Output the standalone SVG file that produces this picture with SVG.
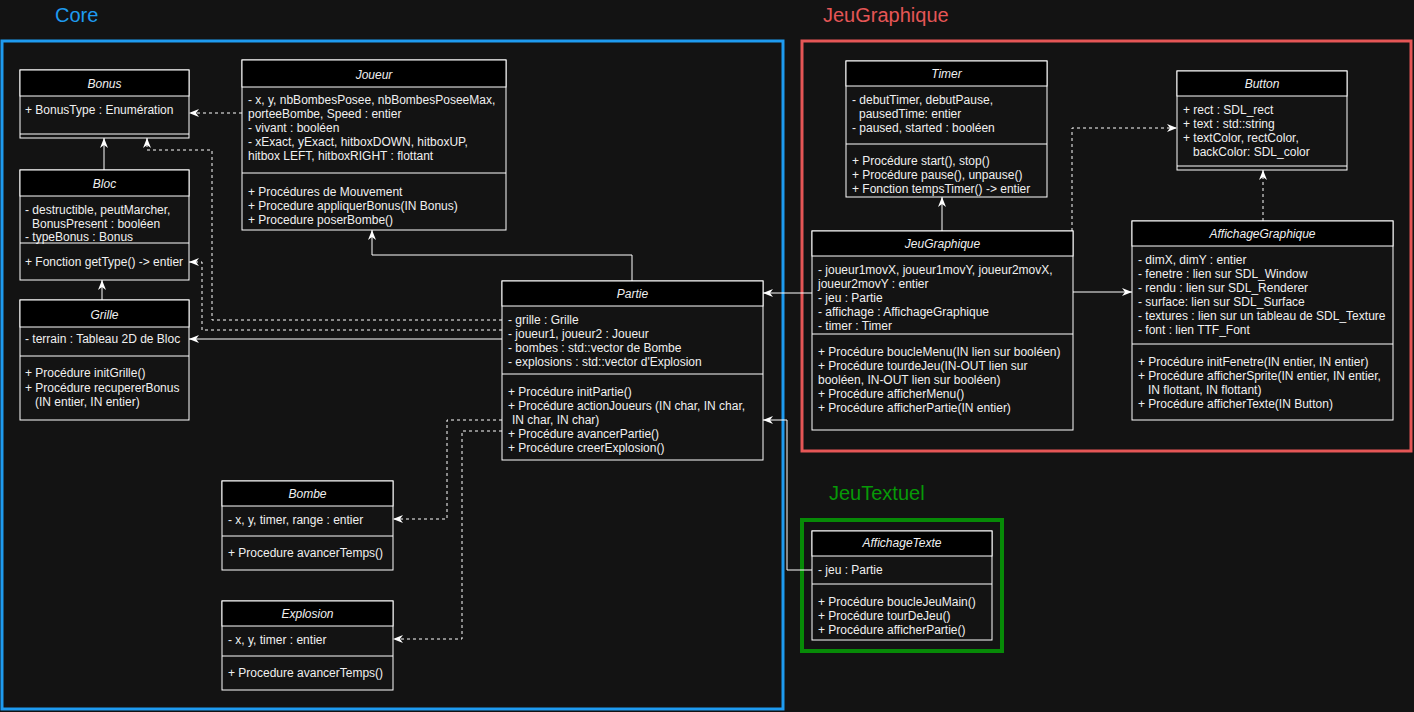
<svg xmlns="http://www.w3.org/2000/svg" width="1414" height="712" viewBox="0 0 1414 712">
<style>
.t{font-family:"Liberation Sans",Arial,Helvetica,sans-serif;font-size:12px;fill:#f0f0f0}
.ti{font-style:italic;text-anchor:middle}
.big{font-family:"Liberation Sans",Arial,Helvetica,sans-serif;font-size:20px}
.body{fill:#131313;stroke:#ffffff;stroke-width:1}
.hdr{fill:#000000;stroke:#ffffff;stroke-width:1}
.sep{stroke:#ffffff;stroke-width:1}
.c{fill:none;stroke:#ffffff;stroke-width:1}
.d{fill:none;stroke:#ffffff;stroke-width:1;stroke-dasharray:3 3}
</style>
<defs>
<marker id="a" markerUnits="userSpaceOnUse" markerWidth="10" markerHeight="8" refX="10" refY="4" orient="auto">
<path d="M0,0 L10,4 L0,8 L3,4 Z" fill="#ffffff"/>
</marker>
</defs>
<rect x="0" y="0" width="1414" height="712" fill="#131313"/>

<g id="frames">
<rect x="2" y="41" width="781" height="668" fill="none" stroke="#1e9bf0" stroke-width="3"/>
<text x="55" y="22" class="big" fill="#1e9bf0">Core</text>
<rect x="802" y="41" width="609" height="410" fill="none" stroke="#e55656" stroke-width="3"/>
<text x="823" y="22" class="big" fill="#e55656">JeuGraphique</text>
<rect x="802" y="520" width="200" height="131" fill="none" stroke="#078a07" stroke-width="4"/>
<text x="829" y="500" class="big" fill="#079a07">JeuTextuel</text>
</g>

<g id="connectors">
<path class="c" d="M104,170 V138" marker-end="url(#a)"/>
<path class="c" d="M102,300 V280" marker-end="url(#a)"/>
<path class="d" d="M242,113 H189" marker-end="url(#a)"/>
<path class="d" d="M502,320 H212 V150 H147 V138" marker-end="url(#a)"/>
<path class="d" d="M502,330 H202 V262 H189" marker-end="url(#a)"/>
<path class="c" d="M502,339 H189" marker-end="url(#a)"/>
<path class="c" d="M632,281 V255 H372 V230" marker-end="url(#a)"/>
<path class="d" d="M502,420 H447 V519 H393" marker-end="url(#a)"/>
<path class="d" d="M502,431 H462 V639 H393" marker-end="url(#a)"/>
<path class="c" d="M812,293 H763" marker-end="url(#a)"/>
<path class="c" d="M1073,292 H1132" marker-end="url(#a)"/>
<path class="c" d="M942,231 V197" marker-end="url(#a)"/>
<path class="d" d="M1072,231 V128 H1177" marker-end="url(#a)"/>
<path class="d" d="M1263,221 V170" marker-end="url(#a)"/>
<path class="c" d="M812,570 H787 V420 H763" marker-end="url(#a)"/>
</g>

<g id="Bonus">
<rect class="body" x="20" y="70" width="169" height="68"/>
<rect class="hdr" x="20" y="70" width="169" height="26"/>
<line class="sep" x1="20" y1="134" x2="189" y2="134"/>
<text class="t ti" x="104.5" y="88">Bonus</text>
<text class="t" x="25" y="114">+ BonusType : Enumération</text>
</g>

<g id="Bloc">
<rect class="body" x="20" y="170" width="169" height="110"/>
<rect class="hdr" x="20" y="170" width="169" height="26"/>
<line class="sep" x1="20" y1="243" x2="189" y2="243"/>
<text class="t ti" x="104.5" y="188">Bloc</text>
<text class="t" x="25" y="214">- destructible, peutMarcher,</text>
<text class="t" x="32" y="228">BonusPresent : booléen</text>
<text class="t" x="25" y="241">- typeBonus : Bonus</text>
<text class="t" x="25" y="266">+ Fonction getType() -&gt; entier</text>
</g>

<g id="Grille">
<rect class="body" x="20" y="300" width="169" height="120"/>
<rect class="hdr" x="20" y="300" width="169" height="27"/>
<line class="sep" x1="20" y1="356" x2="189" y2="356"/>
<text class="t ti" x="104.5" y="319">Grille</text>
<text class="t" x="25" y="343">- terrain : Tableau 2D de Bloc</text>
<text class="t" x="25" y="377">+ Procédure initGrille()</text>
<text class="t" x="25" y="392">+ Procédure recupererBonus</text>
<text class="t" x="35" y="406">(IN entier, IN entier)</text>
</g>

<g id="Joueur">
<rect class="body" x="242" y="60" width="264" height="170"/>
<rect class="hdr" x="242" y="60" width="264" height="27"/>
<line class="sep" x1="242" y1="173" x2="506" y2="173"/>
<text class="t ti" x="374" y="79">Joueur</text>
<text class="t" x="248" y="104">- x, y, nbBombesPosee, nbBombesPoseeMax,</text>
<text class="t" x="248" y="118">porteeBombe, Speed : entier</text>
<text class="t" x="248" y="132">- vivant : booléen</text>
<text class="t" x="248" y="146">- xExact, yExact, hitboxDOWN, hitboxUP,</text>
<text class="t" x="248" y="160">hitbox LEFT, hitboxRIGHT : flottant</text>
<text class="t" x="248" y="196">+ Procédures de Mouvement</text>
<text class="t" x="248" y="210">+ Procedure appliquerBonus(IN Bonus)</text>
<text class="t" x="248" y="224">+ Procedure poserBombe()</text>
</g>

<g id="Partie">
<rect class="body" x="502" y="281" width="261" height="179"/>
<rect class="hdr" x="502" y="281" width="261" height="25"/>
<line class="sep" x1="502" y1="374" x2="763" y2="374"/>
<text class="t ti" x="632.5" y="298">Partie</text>
<text class="t" x="508" y="324">- grille : Grille</text>
<text class="t" x="508" y="338">- joueur1, joueur2 : Joueur</text>
<text class="t" x="508" y="352">- bombes : std::vector de Bombe</text>
<text class="t" x="508" y="366">- explosions : std::vector d'Explosion</text>
<text class="t" x="508" y="396">+ Procédure initPartie()</text>
<text class="t" x="508" y="410">+ Procédure actionJoueurs (IN char, IN char,</text>
<text class="t" x="512" y="424">IN char, IN char)</text>
<text class="t" x="508" y="438">+ Procédure avancerPartie()</text>
<text class="t" x="508" y="452">+ Procédure creerExplosion()</text>
</g>

<g id="Bombe">
<rect class="body" x="222" y="481" width="171" height="89"/>
<rect class="hdr" x="222" y="481" width="171" height="25"/>
<line class="sep" x1="222" y1="536" x2="393" y2="536"/>
<text class="t ti" x="307.5" y="498">Bombe</text>
<text class="t" x="228" y="524">- x, y, timer, range : entier</text>
<text class="t" x="228" y="557">+ Procedure avancerTemps()</text>
</g>

<g id="Explosion">
<rect class="body" x="222" y="601" width="171" height="89"/>
<rect class="hdr" x="222" y="601" width="171" height="25"/>
<line class="sep" x1="222" y1="656" x2="393" y2="656"/>
<text class="t ti" x="307.5" y="618">Explosion</text>
<text class="t" x="228" y="644">- x, y, timer : entier</text>
<text class="t" x="228" y="677">+ Procedure avancerTemps()</text>
</g>

<g id="Timer">
<rect class="body" x="846" y="61" width="201" height="136"/>
<rect class="hdr" x="846" y="61" width="201" height="25"/>
<line class="sep" x1="846" y1="144" x2="1047" y2="144"/>
<text class="t ti" x="946.5" y="78">Timer</text>
<text class="t" x="852" y="104">- debutTimer, debutPause,</text>
<text class="t" x="859" y="118">pausedTime: entier</text>
<text class="t" x="852" y="132">- paused, started : booléen</text>
<text class="t" x="852" y="165">+ Procédure start(), stop()</text>
<text class="t" x="852" y="179">+ Procédure pause(), unpause()</text>
<text class="t" x="852" y="193">+ Fonction tempsTimer() -&gt; entier</text>
</g>

<g id="JeuGraphique">
<rect class="body" x="812" y="231" width="261" height="199"/>
<rect class="hdr" x="812" y="231" width="261" height="25"/>
<line class="sep" x1="812" y1="334" x2="1073" y2="334"/>
<text class="t ti" x="942.5" y="248">JeuGraphique</text>
<text class="t" x="818" y="274">- joueur1movX, joueur1movY, joueur2movX,</text>
<text class="t" x="818" y="288">joueur2movY : entier</text>
<text class="t" x="818" y="302">- jeu : Partie</text>
<text class="t" x="818" y="316">- affichage : AffichageGraphique</text>
<text class="t" x="818" y="330">- timer : Timer</text>
<text class="t" x="818" y="356">+ Procédure boucleMenu(IN lien sur booléen)</text>
<text class="t" x="818" y="370">+ Procédure tourdeJeu(IN-OUT lien sur</text>
<text class="t" x="818" y="384">booléen, IN-OUT lien sur booléen)</text>
<text class="t" x="818" y="398">+ Procédure afficherMenu()</text>
<text class="t" x="818" y="412">+ Procédure afficherPartie(IN entier)</text>
</g>

<g id="Button">
<rect class="body" x="1177" y="71" width="170" height="99"/>
<rect class="hdr" x="1177" y="71" width="170" height="25"/>
<line class="sep" x1="1177" y1="166" x2="1347" y2="166"/>
<text class="t ti" x="1262" y="88">Button</text>
<text class="t" x="1183" y="114">+ rect : SDL_rect</text>
<text class="t" x="1183" y="128">+ text : std::string</text>
<text class="t" x="1183" y="142">+ textColor, rectColor,</text>
<text class="t" x="1193" y="156">backColor: SDL_color</text>
</g>

<g id="AffichageGraphique">
<rect class="body" x="1132" y="221" width="261" height="199"/>
<rect class="hdr" x="1132" y="221" width="261" height="25"/>
<line class="sep" x1="1132" y1="344" x2="1393" y2="344"/>
<text class="t ti" x="1262.5" y="238">AffichageGraphique</text>
<text class="t" x="1138" y="264">- dimX, dimY : entier</text>
<text class="t" x="1138" y="278">- fenetre : lien sur SDL_Window</text>
<text class="t" x="1138" y="292">- rendu : lien sur SDL_Renderer</text>
<text class="t" x="1138" y="306">- surface: lien sur SDL_Surface</text>
<text class="t" x="1138" y="320">- textures : lien sur un tableau de SDL_Texture</text>
<text class="t" x="1138" y="334">- font : lien TTF_Font</text>
<text class="t" x="1138" y="366">+ Procédure initFenetre(IN entier, IN entier)</text>
<text class="t" x="1138" y="380">+ Procédure afficherSprite(IN entier, IN entier,</text>
<text class="t" x="1148" y="394">IN flottant, IN flottant)</text>
<text class="t" x="1138" y="408">+ Procédure afficherTexte(IN Button)</text>
</g>

<g id="AffichageTexte">
<rect class="body" x="812" y="531" width="180" height="109"/>
<rect class="hdr" x="812" y="531" width="180" height="25"/>
<line class="sep" x1="812" y1="584" x2="992" y2="584"/>
<text class="t ti" x="902" y="547">AffichageTexte</text>
<text class="t" x="818" y="574">- jeu : Partie</text>
<text class="t" x="818" y="606">+ Procédure boucleJeuMain()</text>
<text class="t" x="818" y="620">+ Procédure tourDeJeu()</text>
<text class="t" x="818" y="634">+ Procédure afficherPartie()</text>
</g>
</svg>
